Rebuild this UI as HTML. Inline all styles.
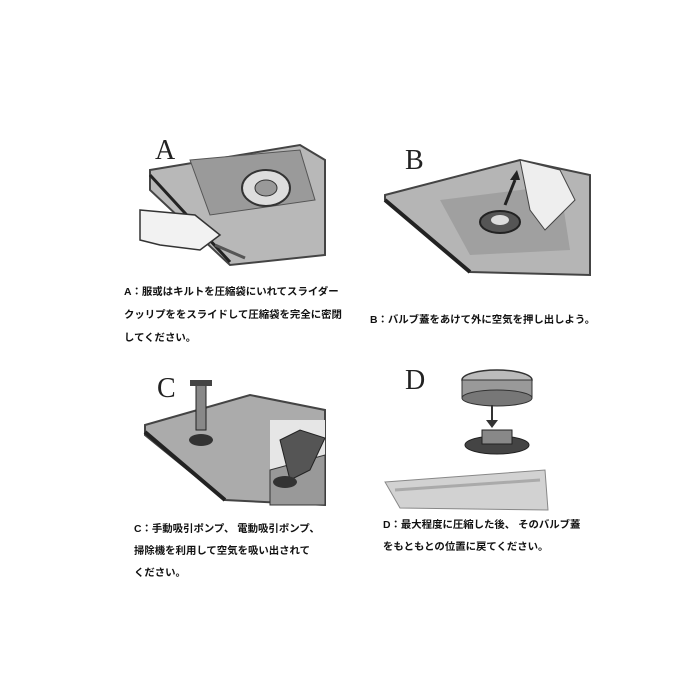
<!DOCTYPE html>
<html><head><meta charset="utf-8"><style>
body{margin:0;width:700px;height:700px;background:#fff;position:relative;overflow:hidden;font-family:"Liberation Sans","Noto Sans CJK JP",sans-serif;}
.t{position:absolute;font-size:10.4px;color:#111;white-space:nowrap;font-weight:bold;}
.L{position:absolute;font-family:"Liberation Serif",serif;font-size:28px;color:#222;}
svg{position:absolute;left:0;top:0}
</style></head><body>
<svg width="700" height="700">
<g>
<path d="M150 170 L300 145 L325 160 L325 255 L230 265 L150 190 Z" fill="#b8b8b8" stroke="#444" stroke-width="2"/>
<path d="M150 175 L230 262" stroke="#222" stroke-width="3"/>
<path d="M190 160 L300 150 L315 200 L210 215 Z" fill="#9a9a9a" stroke="#555"/>
<ellipse cx="266" cy="188" rx="24" ry="18" fill="#ddd" stroke="#333" stroke-width="2"/>
<ellipse cx="266" cy="188" rx="11" ry="8" fill="#999" stroke="#333"/>
<path d="M140 210 L195 215 L220 235 L200 250 L160 245 L140 240 Z" fill="#f2f2f2" stroke="#333" stroke-width="1.5"/>
<path d="M215 245 L245 258" stroke="#555" stroke-width="3"/>
</g>
<g>
<path d="M385 195 L520 160 L590 175 L590 275 L470 272 L385 200 Z" fill="#b5b5b5" stroke="#444" stroke-width="2"/>
<path d="M385 200 L470 272" stroke="#222" stroke-width="4"/>
<path d="M440 200 L560 185 L570 250 L470 255 Z" fill="#a0a0a0"/>
<ellipse cx="500" cy="222" rx="20" ry="11" fill="#555" stroke="#222" stroke-width="2"/>
<ellipse cx="500" cy="220" rx="9" ry="5" fill="#ddd"/>
<path d="M505 205 L515 180" stroke="#222" stroke-width="3"/>
<path d="M510 180 L520 180 L517 170 Z" fill="#222"/>
<path d="M520 160 L560 170 L575 200 L545 230 L530 210 Z" fill="#eee" stroke="#444"/>
</g>
<g>
<path d="M145 425 L250 395 L325 410 L325 505 L225 500 L145 435 Z" fill="#ababab" stroke="#444" stroke-width="2"/>
<path d="M145 432 L225 500" stroke="#222" stroke-width="4"/>
<rect x="196" y="385" width="10" height="45" fill="#888" stroke="#222"/>
<rect x="190" y="380" width="22" height="6" fill="#444"/>
<ellipse cx="201" cy="440" rx="12" ry="6" fill="#333"/>
<rect x="270" y="420" width="55" height="85" fill="#e6e6e6"/>
<path d="M270 470 L325 455 L325 505 L270 505 Z" fill="#999" stroke="#333"/>
<path d="M280 440 L300 430 L325 438 L310 470 L290 480 Z" fill="#555" stroke="#222"/>
<ellipse cx="285" cy="482" rx="12" ry="6" fill="#333"/>
</g>
<g>
<ellipse cx="497" cy="380" rx="35" ry="10" fill="#bbb" stroke="#333" stroke-width="1.5"/>
<rect x="462" y="380" width="70" height="18" fill="#999" stroke="#333"/>
<ellipse cx="497" cy="398" rx="35" ry="8" fill="#777" stroke="#333"/>
<path d="M492 405 L492 422" stroke="#333" stroke-width="2"/>
<path d="M486 420 L498 420 L492 428 Z" fill="#333"/>
<ellipse cx="497" cy="445" rx="32" ry="9" fill="#444" stroke="#222"/>
<rect x="482" y="430" width="30" height="14" fill="#888" stroke="#222"/>
<path d="M385 482 L545 470 L548 510 L400 508 Z" fill="#d2d2d2" stroke="#888"/>
<path d="M395 490 L540 480" stroke="#aaa" stroke-width="3"/>
</g>
</svg>
<div class="L" style="left:155px;top:135px">A</div>
<div class="L" style="left:405px;top:145px">B</div>
<div class="L" style="left:157px;top:373px">C</div>
<div class="L" style="left:405px;top:365px">D</div>
<div class="t" style="left:124px;top:283px">A：服或はキルトを圧縮袋にいれてスライダー</div>
<div class="t" style="left:124px;top:306px">クッリプををスライドして圧縮袋を完全に密閉</div>
<div class="t" style="left:124px;top:329px">してください。</div>
<div class="t" style="left:370px;top:311px">B：バルブ蓋をあけて外に空気を押し出しよう。</div>
<div class="t" style="left:134px;top:520px">C：手動吸引ポンプ、 電動吸引ポンプ、</div>
<div class="t" style="left:134px;top:542px">掃除機を利用して空気を吸い出されて</div>
<div class="t" style="left:134px;top:564px">ください。</div>
<div class="t" style="left:383px;top:516px">D：最大程度に圧縮した後、 そのバルブ蓋</div>
<div class="t" style="left:383px;top:538px">をもともとの位置に戻てください。</div>
</body></html>
